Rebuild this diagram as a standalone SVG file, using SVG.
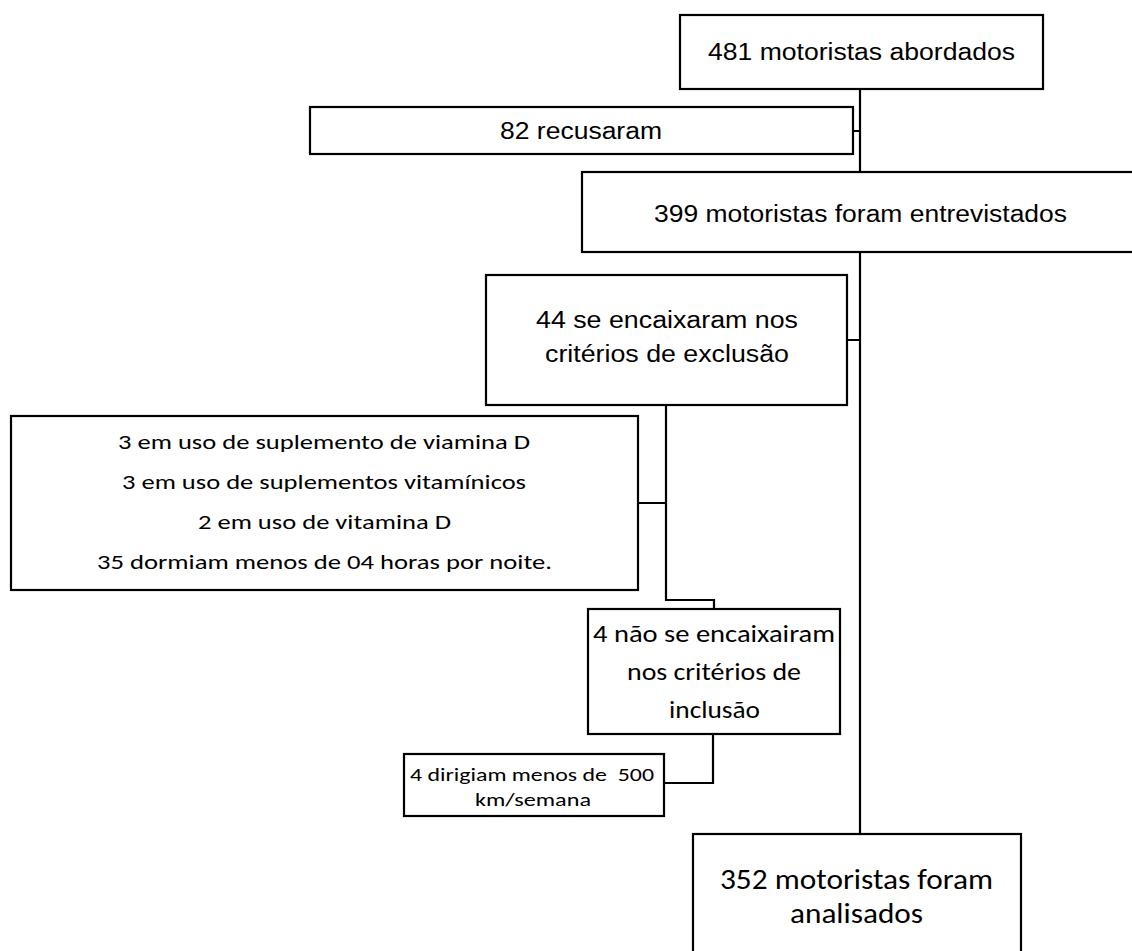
<svg xmlns="http://www.w3.org/2000/svg" width="1132" height="951" viewBox="0 0 1132 951">
<style>
.box{fill:#fff;stroke:#000;stroke-width:2.2}
.con{fill:none;stroke:#000;stroke-width:2.2}
.a{font-family:"Liberation Sans",Arial,sans-serif;font-size:23.3px;fill:#000;text-anchor:middle}
.c{font-family:Carlito,Lato,"Open Sans",sans-serif;fill:#000;text-anchor:middle}
</style>
<rect width="1132" height="951" fill="#fff"/>
<g id="connectors">
<path class="con" d="M860,89 V172 M853,131 H860 M860,252 V834 M847,340 H860"/>
<path class="con" d="M666,405 V600 H714 V609 M638,503 H666"/>
<path class="con" d="M713,734 V783 H664"/>
</g>
<g id="n481">
<rect class="box" x="680" y="15" width="363" height="74"/>
<text class="a" x="861.5" y="60" textLength="307" lengthAdjust="spacingAndGlyphs">481 motoristas abordados</text>
</g>
<g id="n82">
<rect class="box" x="310" y="107" width="543" height="47"/>
<text class="a" x="581" y="139" textLength="162" lengthAdjust="spacingAndGlyphs">82 recusaram</text>
</g>
<g id="n399">
<rect class="box" x="582" y="172" width="560" height="80"/>
<text class="a" x="860.5" y="222" textLength="413" lengthAdjust="spacingAndGlyphs">399 motoristas foram entrevistados</text>
</g>
<g id="n44">
<rect class="box" x="486" y="275" width="361" height="130"/>
<text class="a" x="667" y="328" textLength="262" lengthAdjust="spacingAndGlyphs">44 se encaixaram nos</text>
<text class="a" x="667" y="362" textLength="244" lengthAdjust="spacingAndGlyphs">critérios de exclusão</text>
</g>
<g id="nexcl">
<rect class="box" x="11" y="416" width="627" height="174"/>
<text class="c" font-size="21" x="324" y="449" textLength="412" lengthAdjust="spacingAndGlyphs">3 em uso de suplemento de viamina D</text>
<text class="c" font-size="21" x="324" y="489" textLength="404" lengthAdjust="spacingAndGlyphs">3 em uso de suplementos vitamínicos</text>
<text class="c" font-size="21" x="324.5" y="529" textLength="253" lengthAdjust="spacingAndGlyphs">2 em uso de vitamina D</text>
<text class="c" font-size="21" x="324.5" y="569" textLength="455" lengthAdjust="spacingAndGlyphs">35 dormiam menos de 04 horas por noite.</text>
</g>
<g id="n4nao">
<rect class="box" x="588" y="609" width="252" height="125"/>
<text class="c" font-size="25.4" x="714" y="642" textLength="242" lengthAdjust="spacingAndGlyphs">4 não se encaixairam</text>
<text class="c" font-size="25.4" x="714" y="680" textLength="174" lengthAdjust="spacingAndGlyphs">nos critérios de</text>
<text class="c" font-size="25.4" x="714.5" y="718" textLength="91" lengthAdjust="spacingAndGlyphs">inclusão</text>
</g>
<g id="n4dir">
<rect class="box" x="404" y="754" width="260" height="62"/>
<text class="c" font-size="18.6" x="532" y="781" xml:space="preserve" textLength="244" lengthAdjust="spacingAndGlyphs">4 dirigiam menos de  500</text>
<text class="c" font-size="18.6" x="533" y="806" textLength="116" lengthAdjust="spacingAndGlyphs">km/semana</text>
</g>
<g id="n352">
<rect class="box" x="693" y="834" width="328" height="130"/>
<text class="c" font-size="28" x="856.5" y="889" textLength="273" lengthAdjust="spacingAndGlyphs">352 motoristas foram</text>
<text class="c" font-size="28" x="856.5" y="923" textLength="133" lengthAdjust="spacingAndGlyphs">analisados</text>
</g>
</svg>
